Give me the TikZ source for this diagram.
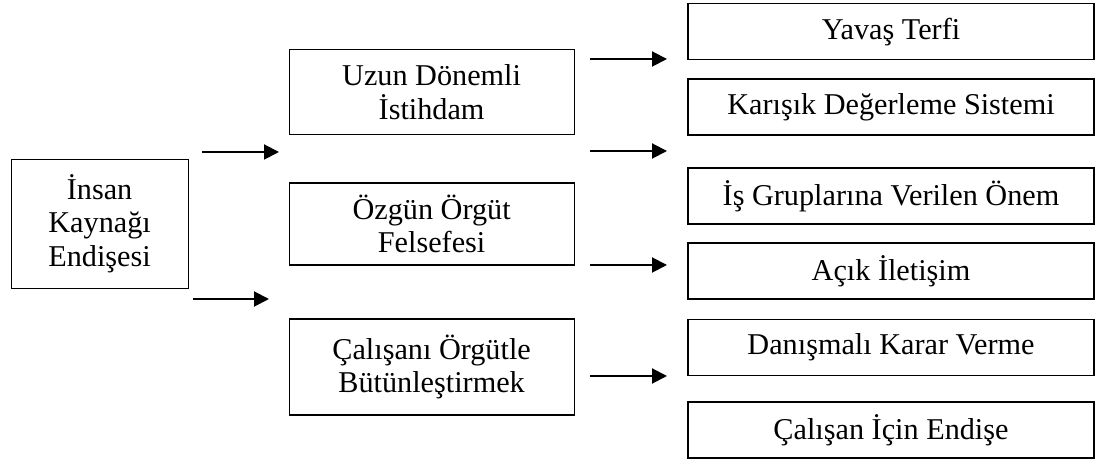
\documentclass[tikz,border=0pt]{standalone}
\usepackage{fontspec}
\setmainfont{Liberation Serif}
\usepackage{tikz}
\usetikzlibrary{arrows.meta}

\begin{document}
\begin{tikzpicture}[
  mbox/.style={draw, line width=0.8pt, align=center, font=\fontsize{21.5}{23.8}\selectfont, inner sep=0pt},
  lbox/.style={mbox, minimum width=4.425cm, minimum height=3.225cm},
  cbox/.style={mbox, minimum width=7.125cm},
  rbox/.style={mbox, minimum width=10.15cm, minimum height=1.4cm},
  arr/.style={-{Triangle[length=0.375cm,width=0.375cm]}, line width=1.4pt}
]
\useasboundingbox (0,0) rectangle (27.4,11.5);
% left
\node[lbox] (ins) at (2.49,5.91) {İnsan\\Kaynağı\\Endişesi};
% middle column
\node[cbox, minimum height=2.125cm] (uzun) at (10.79,9.19) {Uzun Dönemli\\İstihdam};
\node[cbox, minimum height=2.05cm]  (ozg)  at (10.79,5.9)  {Özgün Örgüt\\Felsefesi};
\node[cbox, minimum height=2.4cm]   (cal)  at (10.79,2.325){Çalışanı Örgütle\\Bütünleştirmek};
% right column
\node[rbox] (yav) at (22.275,10.71) {Yavaş Terfi};
\node[rbox] (kar) at (22.275,8.825) {Karışık Değerleme Sistemi};
\node[rbox] (isg) at (22.275,6.6)   {İş Gruplarına Verilen Önem};
\node[rbox] (acik)at (22.275,4.725) {Açık İletişim};
\node[rbox] (dan) at (22.275,2.8125){Danışmalı Karar Verme};
\node[rbox] (end) at (22.275,0.75)  {Çalışan İçin Endişe};
% free arrows
\coordinate (a1s) at (5.05,7.7);    \coordinate (a1e) at (6.975,7.7);
\coordinate (a2s) at (4.825,4.025); \coordinate (a2e) at (6.725,4.025);
\coordinate (b1s) at (14.75,10.025);\coordinate (b1e) at (16.675,10.025);
\coordinate (b2s) at (14.75,7.725); \coordinate (b2e) at (16.675,7.725);
\coordinate (b3s) at (14.75,4.875); \coordinate (b3e) at (16.675,4.875);
\coordinate (b4s) at (14.75,2.1);   \coordinate (b4e) at (16.675,2.1);
\draw[arr] (a1s) -- (a1e);
\draw[arr] (a2s) -- (a2e);
\draw[arr] (b1s) -- (b1e);
\draw[arr] (b2s) -- (b2e);
\draw[arr] (b3s) -- (b3e);
\draw[arr] (b4s) -- (b4e);
\end{tikzpicture}
\end{document}
